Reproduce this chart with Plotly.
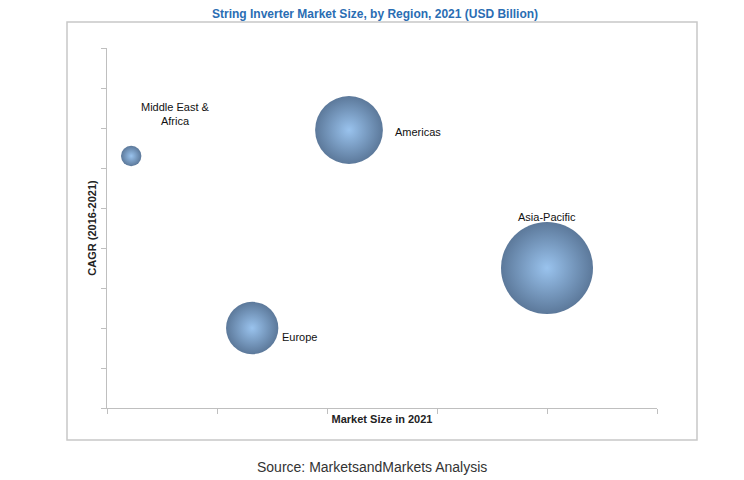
import plotly.graph_objects as go

regions = ["Middle East &<br>Africa", "Americas", "Europe", "Asia-Pacific"]
market_size_pos = [0.22, 2.2, 1.32, 4.0]
cagr_pos = [6.3, 6.95, 2.0, 3.5]
bubble_size = [0.42, 1.4, 1.08, 1.9]

W, H = 744, 480
OFF = 8
L, R, T, B = 107 - OFF, 87 + OFF, 48 - OFF, 72 + OFF
pw, ph = W - L - R, H - T - B

fig = go.Figure()
fig.add_trace(go.Scatter(
    x=market_size_pos, y=cagr_pos, mode="markers",
    marker=dict(size=bubble_size, sizemode="diameter", sizeref=1.9 / 92,
                color="#163f6f", line=dict(width=0),
                gradient=dict(type="radial", color="#6ea9e6")),
    hoverinfo="skip", showlegend=False))

label_pos = [(0.62, 7.35), (2.83, 6.9), (1.75, 1.77), (4.0, 4.78)]
for (lx, ly), t in zip(label_pos, regions):
    fig.add_annotation(x=lx, y=ly, text=t, showarrow=False,
                       font=dict(family="Liberation Sans", size=11, color="#111"))

fig.update_xaxes(range=[0, 5], showgrid=False, zeroline=False, showline=True,
                 linecolor="#bfbfbf", ticks="outside", tickcolor="#bfbfbf", ticklen=5,
                 dtick=1, showticklabels=False,
                 title=dict(text="<b>Market Size in 2021</b>", standoff=2,
                            font=dict(family="Liberation Sans", size=11, color="#222")))
fig.update_yaxes(range=[0, 9], showgrid=False, zeroline=False, showline=True,
                 linecolor="#bfbfbf", ticks="outside", tickcolor="#bfbfbf", ticklen=5,
                 dtick=1, showticklabels=False,
                 title=dict(text="<b>CAGR (2016-2021)</b>", standoff=2,
                            font=dict(family="Liberation Sans", size=11, color="#222")))

fig.add_shape(type="rect", xref="paper", yref="paper",
              x0=(67 - OFF - L) / pw, x1=(697 - OFF - L) / pw,
              y0=1 - (440 - OFF - T) / ph, y1=1 - (22 - OFF - T) / ph,
              line=dict(color="#c8c8c8", width=1.5))

fig.add_annotation(xref="paper", yref="paper", x=(375 - OFF - L) / pw, y=1 - (5 - OFF - T) / ph,
                   text="<b>String Inverter Market Size, by Region, 2021 (USD Billion)</b>",
                   showarrow=False, font=dict(family="Liberation Sans", size=12, color="#2a6db3"))
fig.add_annotation(xref="paper", yref="paper", x=(372 - OFF - L) / pw, y=1 - (477 - OFF - T) / ph,
                   text="Source: MarketsandMarkets Analysis",
                   showarrow=False, font=dict(family="Liberation Sans", size=14, color="#333"))

fig.update_layout(width=W, height=H, margin=dict(l=L, r=R, t=T, b=B),
                  plot_bgcolor="white", paper_bgcolor="white")
fig.write_html("out.html")
